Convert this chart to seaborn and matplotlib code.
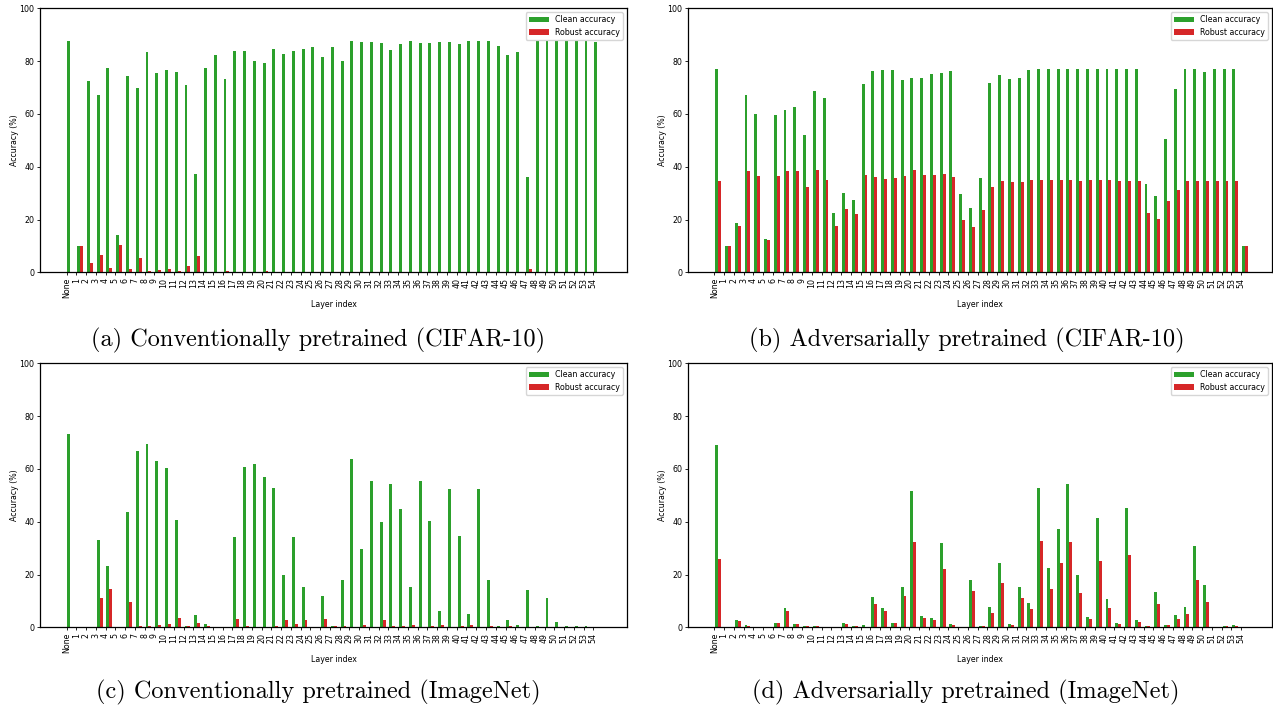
import numpy as np
import pandas as pd
import matplotlib
matplotlib.use("Agg")
import matplotlib.pyplot as plt
import seaborn as sns

layers = ["None"] + [str(i) for i in range(1, 55)]

a_clean = [87.6, 10.0, 72.5, 67.2, 77.4, 14.1, 74.4, 69.8, 83.5, 75.5, 76.6, 75.9, 71.0, 37.2, 77.4,
           82.3, 73.2, 83.8, 83.8, 80.1, 79.3, 84.6, 82.7, 83.8, 84.6, 85.4, 81.6, 85.4, 80.1, 87.6,
           87.2, 87.2, 86.9, 84.2, 86.5, 87.6, 86.9, 86.9, 87.2, 87.2, 86.5, 87.6, 87.6, 87.6, 85.7,
           82.3, 83.5, 36.1, 87.6, 87.6, 87.6, 87.6, 87.6, 87.6, 87.2]
a_robust = [0, 10.0, 3.7, 6.6, 1.6, 10.4, 1.3, 5.4, 0.5, 0.9, 1.3, 0.5, 2.4, 6.2, 0,
            0, 0.5, 0, 0, 0, 0.5, 0, 0, 0, 0, 0, 0, 0, 0, 0,
            0, 0, 0, 0, 0, 0, 0, 0, 0, 0, 0, 0, 0, 0, 0,
            0, 0, 1.3, 0, 0, 0, 0, 0, 0, 0]

b_clean = [77.0, 10.0, 18.7, 67.2, 60.0, 12.6, 59.6, 61.5, 62.6, 52.0, 68.7, 66.0, 22.5, 30.1, 27.4,
           71.3, 76.3, 76.6, 76.6, 72.9, 73.6, 73.6, 75.1, 75.5, 76.3, 29.7, 24.4, 35.7, 71.7, 74.7,
           73.2, 73.6, 76.6, 77.0, 77.0, 77.0, 77.0, 77.0, 77.0, 77.0, 77.0, 77.0, 77.0, 77.0, 33.5,
           28.9, 50.5, 69.4, 77.0, 77.0, 75.9, 77.0, 77.0, 77.0, 10.0]
b_robust = [34.6, 10.0, 17.6, 38.4, 36.5, 12.2, 36.5, 38.4, 38.4, 32.3, 38.8, 35.0, 17.6, 24.0, 22.1,
            36.9, 36.1, 35.4, 35.7, 36.5, 38.8, 36.9, 36.9, 37.2, 36.1, 19.8, 17.2, 23.6, 32.3, 34.6,
            34.2, 34.2, 35.0, 35.0, 35.0, 35.0, 35.0, 34.6, 35.0, 35.0, 35.0, 34.6, 34.6, 34.6, 22.5,
            20.2, 27.0, 31.2, 34.6, 34.6, 34.6, 34.6, 34.6, 34.6, 10.0]

c_clean = [73.2, 0, 0, 33.1, 23.2, 0, 43.7, 66.8, 69.4, 63.0, 60.4, 40.7, 0.5, 4.7, 1.3,
           0, 0, 34.2, 60.7, 61.9, 56.9, 52.8, 19.8, 34.2, 15.3, 0, 11.9, 0.5, 17.9, 63.8,
           29.7, 55.4, 39.9, 54.3, 44.8, 15.3, 55.4, 40.3, 6.2, 52.4, 34.6, 5.1, 52.4, 17.9, 0.5,
           2.8, 0.9, 14.1, 0.5, 11.1, 2.0, 0.5, 0.5, 0.5, 0]
c_robust = [0, 0, 0, 11.1, 14.5, 0, 9.6, 0.5, 0.5, 0.9, 1.3, 3.5, 0.5, 1.6, 0.5,
            0, 0, 3.2, 0.5, 0, 0, 0.5, 2.8, 1.3, 2.8, 0, 3.2, 0.5, 0.5, 0,
            0.9, 0, 2.8, 0.5, 0.5, 0.9, 0, 0.5, 0.9, 0, 0.5, 0.9, 0, 0.5, 0,
            0.5, 0, 0, 0, 0, 0, 0, 0, 0, 0]

d_clean = [69.1, 0, 2.8, 0.9, 0, 0, 1.6, 7.3, 1.3, 0.5, 0.5, 0, 0, 1.6, 0.5,
           0.9, 11.5, 7.3, 1.6, 15.3, 51.6, 4.3, 3.5, 31.9, 1.3, 0, 17.9, 0.5, 7.7, 24.4,
           1.3, 15.3, 9.2, 52.8, 22.5, 37.2, 54.3, 19.8, 3.9, 41.4, 10.7, 1.6, 45.2, 2.8, 0.5,
           13.4, 0.9, 4.7, 7.7, 30.8, 16.0, 0, 0.5, 0.9, 0]
d_robust = [25.9, 0, 2.4, 0.5, 0, 0, 1.6, 6.2, 1.3, 0.5, 0.5, 0, 0, 1.3, 0.5,
            0.3, 8.8, 6.2, 1.6, 11.9, 32.3, 3.5, 2.8, 22.1, 0.9, 0, 13.8, 0.5, 5.4, 16.8,
            0.9, 11.1, 6.9, 32.7, 14.5, 24.4, 32.3, 13.0, 3.2, 25.1, 7.3, 1.3, 27.4, 2.0, 0.5,
            8.8, 0.9, 3.2, 5.1, 17.9, 9.6, 0, 0.5, 0.5, 0]

captions = ["(a) Conventionally pretrained (CIFAR-10)",
            "(b) Adversarially pretrained (CIFAR-10)",
            "(c) Conventionally pretrained (ImageNet)",
            "(d) Adversarially pretrained (ImageNet)"]
series_names = ["Clean accuracy", "Robust accuracy"]
colors = ["#2ca02c", "#d62728"]

W, H = 1273, 706
fig = plt.figure(figsize=(W / 100, H / 100), dpi=100)

spacing = 9.756  # px per category
FS = 5.7

def make_axes(left_px, right_px, top_px, bottom_px):
    return fig.add_axes([left_px / W, 1 - bottom_px / H, (right_px - left_px) / W, (bottom_px - top_px) / H])

panels = [
    (a_clean, a_robust, 40.0, 627.0, 8.3, 272.3, 66.5),
    (b_clean, b_robust, 687.8, 1272.0, 8.3, 272.3, 714.3),
    (c_clean, c_robust, 40.0, 627.0, 363.3, 627.3, 66.5),
    (d_clean, d_robust, 687.8, 1272.0, 363.3, 627.3, 714.3),
]
cap_pos = [(318, 340), (967, 340), (318, 692), (966, 692)]

idx = np.arange(len(layers))
for (clean, robust, l, r, t, b, tick0), cap, (cx, cy) in zip(panels, captions, cap_pos):
    ax = make_axes(l, r, t, b)
    df = pd.DataFrame({
        "pos": np.concatenate([idx + 0.4, idx + 0.4]),
        "value": np.concatenate([clean, robust]),
        "metric": [series_names[0]] * len(idx) + [series_names[1]] * len(idx),
    })
    sns.barplot(data=df, x="pos", y="value", hue="metric", native_scale=True,
                width=0.6, dodge=True, saturation=1, errorbar=None,
                palette=colors, ax=ax)
    ax.set_xlim((l - tick0) / spacing, (r - tick0) / spacing)
    ax.set_ylim(0, 100)
    ax.set_xticks(idx)
    ax.set_xticklabels(layers, rotation=90, fontsize=FS)
    ax.set_yticks([0, 20, 40, 60, 80, 100])
    ax.set_yticklabels(["0", "20", "40", "60", "80", "100"], fontsize=FS)
    ax.tick_params(length=2.5, width=0.6, pad=1.5)
    for s in ax.spines.values():
        s.set_linewidth(0.9)
    ax.set_xlabel("Layer index", fontsize=FS, labelpad=1.0)
    ax.set_ylabel("Accuracy (%)", fontsize=FS, labelpad=0.5)
    h, lab = ax.get_legend_handles_labels()
    ax.legend(h, lab, loc="upper right", fontsize=FS, frameon=True,
              handlelength=2.5, borderpad=0.4, labelspacing=0.4)
    fig.text(cx / W, 1 - cy / H, cap, fontfamily="cmr10", fontsize=17.5,
             ha="center", va="center")

fig.savefig("out.png", dpi=100)
